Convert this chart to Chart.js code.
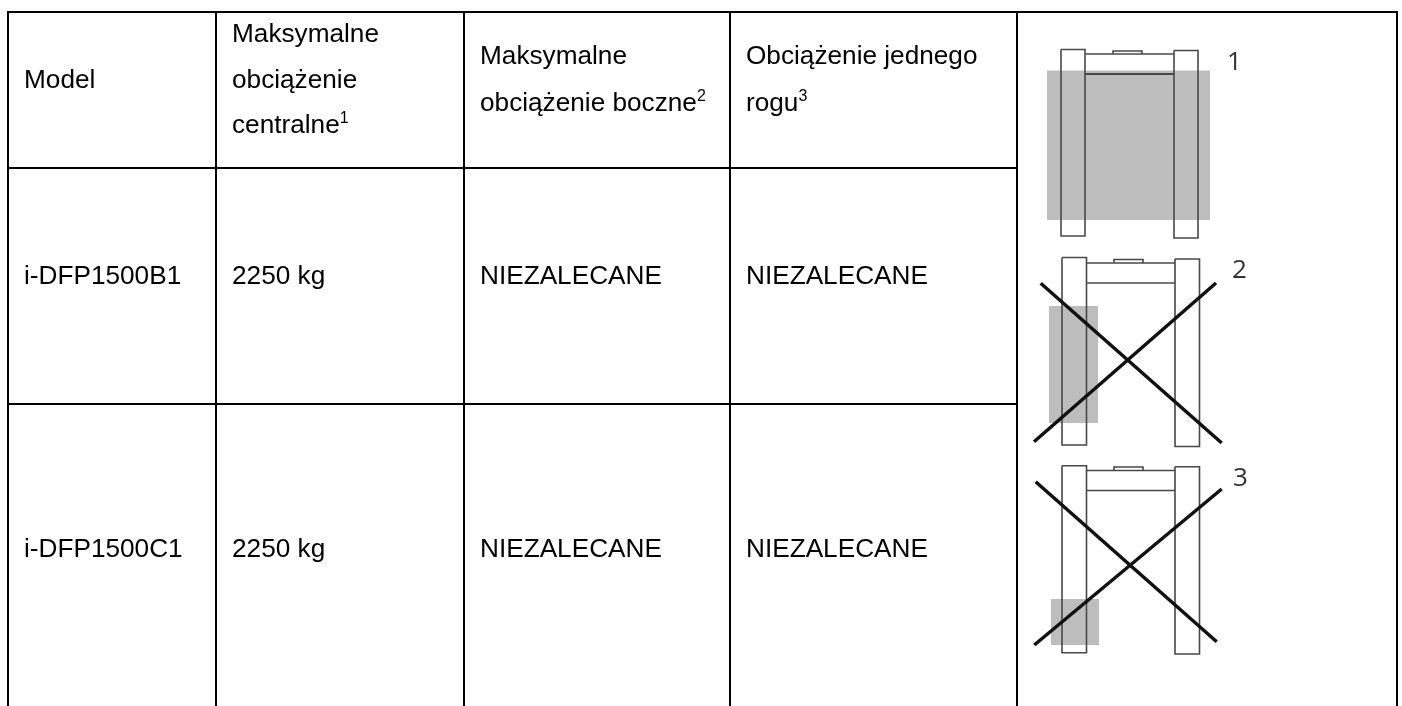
<!DOCTYPE html>
<html><head><meta charset="utf-8">
<style>html,body{margin:0;padding:0;background:#fff}#w{width:1402px;height:706px}</style>
<script src="https://cdn.jsdelivr.net/npm/chart.js@4"></script>
</head><body><div id="w"><canvas id="c" width="1402" height="706"></canvas></div>
<script>
const columnEdges = [8, 216, 464, 730, 1017, 1397];
const rowEdges = [12, 168, 404, 706];
const models = ['i-DFP1500B1', 'i-DFP1500C1'];
const centralLoad = ['2250 kg', '2250 kg'];
const sideLoad = ['NIEZALECANE', 'NIEZALECANE'];
const cornerLoad = ['NIEZALECANE', 'NIEZALECANE'];
const headerLines = [
  [['Model', 88]],
  [['Maksymalne', 42], ['obciążenie', 88], ['centralne', 133, '1']],
  [['Maksymalne', 64], ['obciążenie boczne', 111, '2']],
  [['Obciążenie jednego', 64], ['rogu', 111, '3']]
];
const rowBaselines = [284, 557];
const loadRects = [[1047, 1210, 70.5, 220], [1049, 1098, 306, 423], [1051, 1099, 599, 645]];
const frameTops = [[49.5, 236, 50.5, 238, 54, 74, 51], [257.5, 445, 259, 446.5, 263, 283, 259.5], [465.7, 652.7, 466.7, 654, 470.5, 490.5, 467]];
const frameXs = [[1061, 1085, 1174, 1198, 1113, 1142], [1062, 1086.5, 1175, 1199.5, 1114, 1143], [1062, 1086.5, 1175, 1199.5, 1114, 1143]];
const crossLines = [
  [1040.7, 283.3, 1221.7, 443], [1034, 441.7, 1216, 283],
  [1035.7, 481.7, 1216.7, 641.7], [1034.3, 645, 1221.7, 489]
];
const figureLabels = [['1', 1227, 70], ['2', 1232, 278], ['3', 1233, 486]];

const seg = (pts, color, width, order) => ({data: pts.map(p => ({x: p[0], y: p[1]})), showLine: true, borderColor: color, borderWidth: width, pointRadius: 0, fill: false, tension: 0, order});
const box = (x0, x1, y0, y1) => [[x0, y0], [x1, y0], [x1, y1], [x0, y1], [x0, y0]];
const datasets = [];
loadRects.forEach(r => datasets.push({...seg(box(r[0], r[1], r[2], r[3]), 'rgba(0,0,0,0)', 0, 10), fill: 'shape', backgroundColor: '#bdbdbd'}));
frameTops.forEach((t, i) => {
  const f = frameXs[i], c = '#484848', w = 1.6;
  datasets.push(seg(box(f[0], f[1], t[0], t[1]), c, w, 5));
  datasets.push(seg(box(f[2], f[3], t[2], t[3]), c, w, 5));
  datasets.push(seg([[f[1], t[4]], [f[2], t[4]]], c, w, 5));
  datasets.push(seg([[f[1], t[5]], [f[2], t[5]]], i === 0 ? '#222' : c, w, 5));
  datasets.push(seg([[f[4], t[4]], [f[4], t[6]], [f[5], t[6]], [f[5], t[4]]], c, w, 5));
});
crossLines.forEach(l => datasets.push(seg([[l[0], l[1]], [l[2], l[3]]], '#111', 3.5, 2)));
const B = '#000', LW = 2;
const xs = columnEdges, ys = rowEdges;
datasets.push(seg([[xs[0], ys[0]], [xs[5], ys[0]]], B, LW, 1));
datasets.push(seg([[xs[0], ys[1]], [xs[4], ys[1]]], B, LW, 1));
datasets.push(seg([[xs[0], ys[2]], [xs[4], ys[2]]], B, LW, 1));
xs.forEach(x => datasets.push(seg([[x, ys[0] - 1], [x, ys[3]]], B, LW, 1)));

const textPlugin = {
  id: 'tableText',
  afterDatasetsDraw(chart) {
    const g = chart.ctx, X = chart.scales.x, Y = chart.scales.y;
    g.save();
    g.textBaseline = 'alphabetic';
    const FONT = '26.2px "Liberation Sans"';
    const put = (s, col, by, sup) => {
      const x = X.getPixelForValue(xs[col] + 16), y = Y.getPixelForValue(by);
      g.fillStyle = '#000'; g.font = FONT; g.fillText(s, x, y);
      if (sup) { const w = g.measureText(s).width; g.font = '16px "Liberation Sans"'; g.fillText(sup, x + w, y - 10); }
    };
    headerLines.forEach((lines, c) => lines.forEach(l => put(l[0], c, l[1], l[2])));
    [models, centralLoad, sideLoad, cornerLoad].forEach((col, c) => col.forEach((s, r) => put(s, c, rowBaselines[r])));
    g.font = '26px "Open Sans"'; g.fillStyle = '#333';
    figureLabels.forEach(l => g.fillText(l[0], X.getPixelForValue(l[1]), Y.getPixelForValue(l[2])));
    g.restore();
  }
};

new Chart(document.getElementById('c'), {
  type: 'scatter',
  data: {datasets},
  options: {
    responsive: false, animation: false, events: [],
    layout: {padding: 0},
    plugins: {legend: {display: false}, tooltip: {enabled: false}, title: {display: false}},
    scales: {
      x: {type: 'linear', min: 0, max: 1402, display: false},
      y: {type: 'linear', min: 0, max: 706, reverse: true, display: false}
    }
  },
  plugins: [textPlugin]
});
</script></body></html>
